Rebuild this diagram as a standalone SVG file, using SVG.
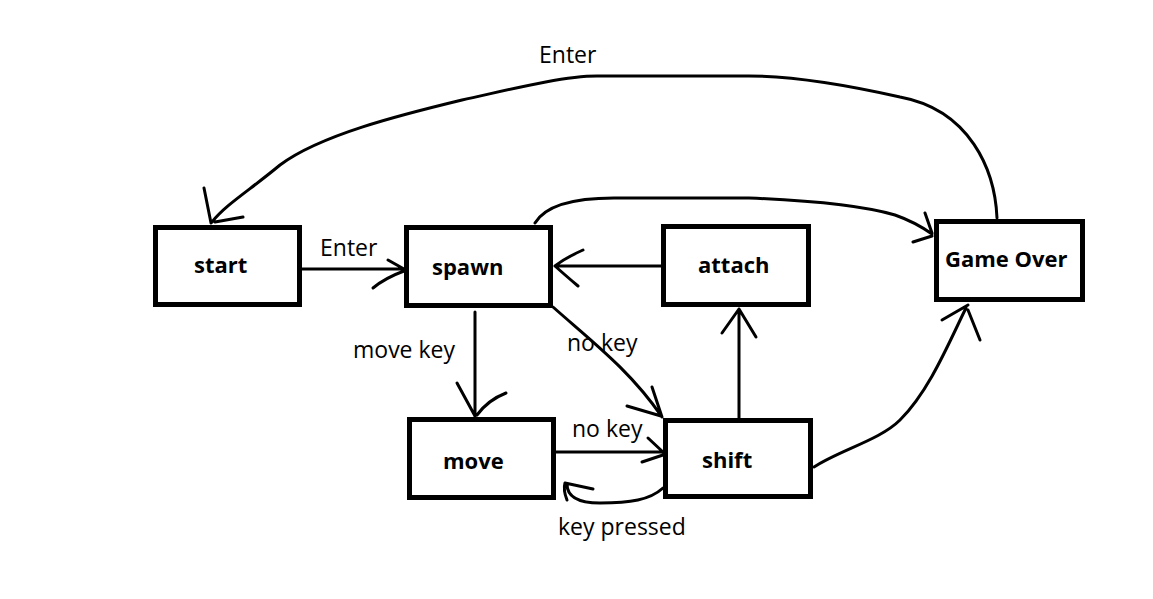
<svg xmlns="http://www.w3.org/2000/svg" width="1153" height="599" viewBox="0 0 1153 599">
<style>
.box{fill:#fff;stroke:#000;stroke-width:5}
.nt{font-family:"Open Sans","Liberation Sans",sans-serif;font-weight:700;font-size:22px;fill:#000}
.lb{font-family:"Open Sans","Liberation Sans",sans-serif;font-size:23px;fill:#000}
.c{fill:none;stroke:#000;stroke-width:3;stroke-linecap:round;stroke-linejoin:round}
</style>
<rect width="1153" height="599" fill="#fff"/>
<g id="connectors">
<path class="c" d="M302,269 L404,269 M388,260 L404,269 M373,288 Q385,278 404,271"/>
<path class="c" d="M475,312 L475,417 M457,383 L475,416 M506,393 Q488,400 477,415"/>
<path class="c" d="M553,307 C590,340 630,370 662,417 M652,387 L662,417 M627,406 L661,416"/>
<path class="c" d="M556,452 L663,452 M648,438 L663,452 M642,462 L663,455"/>
<path class="c" d="M663,488 C650,500 630,503 600,503 C575,503 567,495 567,484 M567,500 Q563,490 565,483 L593,489"/>
<path class="c" d="M739,418 L739,309 M722,333 L739,309 L756,337"/>
<path class="c" d="M661,266 L555,266 M583,250 Q565,258 555,266 Q565,275 578,286"/>
<path class="c" d="M814,467 C840,450 880,440 900,420 C930,390 950,340 966,308 M942,320 L968,305 M980,340 L968,310"/>
<path class="c" d="M535,223 Q550,198 614,198 L749,198 Q850,202 895,215 Q915,222 932,234 M925,213 L932,233 M913,242 L932,236"/>
<path class="c" d="M997,218 C995,170 970,110 900,97 C860,88 800,76 749,76 L597,76 C560,76 500,92 462,100 C400,115 320,135 280,165 C250,190 225,205 212,222 M204,188 L211,223 M215,222 L243,217"/>
<text class="lb" x="539" y="63">Enter</text>
<text class="lb" x="320" y="256">Enter</text>
<text class="lb" x="353" y="358">move key</text>
<text class="lb" x="567" y="351">no key</text>
<text class="lb" x="572" y="437">no key</text>
<text class="lb" x="558" y="535">key pressed</text>
</g>
<g id="start"><rect class="box" x="155.5" y="227.5" width="144" height="77"/><text class="nt" x="194" y="273">start</text></g>
<g id="spawn"><rect class="box" x="406.5" y="227.5" width="144" height="78"/><text class="nt" x="432" y="275">spawn</text></g>
<g id="move"><rect class="box" x="409.5" y="419.5" width="144" height="78"/><text class="nt" x="443" y="469">move</text></g>
<g id="shift"><rect class="box" x="665.5" y="420.5" width="145" height="76"/><text class="nt" x="702" y="468">shift</text></g>
<g id="attach"><rect class="box" x="663.5" y="226.5" width="145" height="78"/><text class="nt" x="698" y="273">attach</text></g>
<g id="gameover"><rect class="box" x="936.5" y="221.5" width="146" height="78"/><text class="nt" x="945" y="267">Game Over</text></g>
</svg>
